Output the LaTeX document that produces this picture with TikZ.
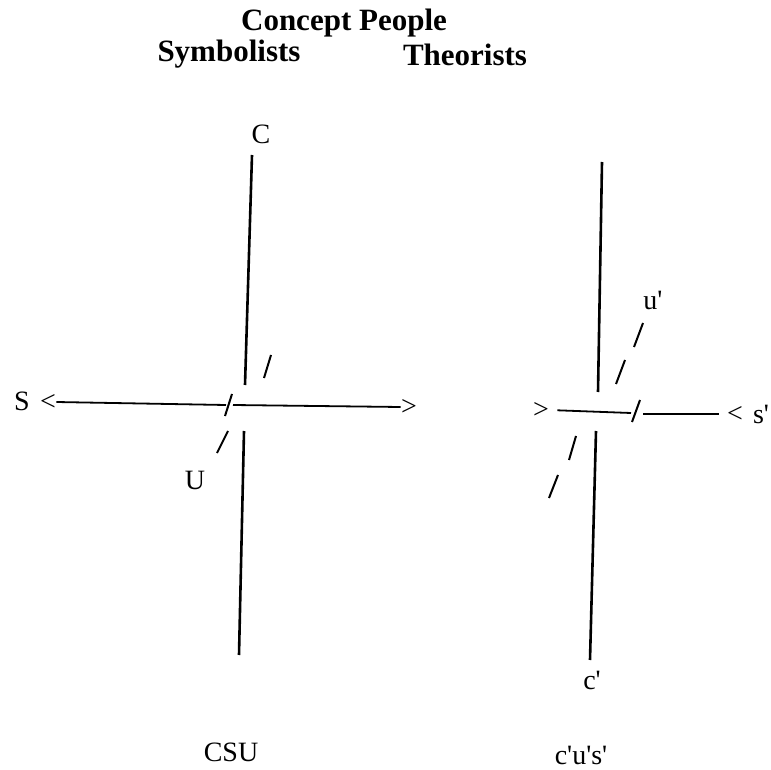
\documentclass[tikz,border=0pt]{standalone}
\usepackage{fontspec}
\setmainfont{Liberation Serif}
\newcommand{\pr}{\textquotesingle}
\begin{document}
\begin{tikzpicture}[
    x=0.5pt, y=-0.5pt,
    every node/.style={inner sep=0pt, font=\fontsize{14}{16}\selectfont},
    head/.style={font=\bfseries\fontsize{15.5}{18}\selectfont, anchor=base},
    axis/.style={line width=1.3pt},
    hline/.style={line width=0.9pt},
    tick/.style={line width=1pt},
    ]
    \useasboundingbox (0,0) rectangle (771,770);

    % Headings
    \node[head] (concept) at (344,31) {Concept People};
    \node[head] (symb) at (229,62) {Symbolists};
    \node[head] (theo) at (465,66) {Theorists};

    % Left: CSU
    \node (C) at (261,134) {C};
    \node (S) at (22,401) {S};
    \node (U) at (195,480) {U};
    \node (ltS) at (48,402) {<};
    \node (gtS) at (409,407) {>};
    \node (CSU) at (231,752) {CSU};
    \coordinate (Ctop) at (252,155);
    \coordinate (Cmid) at (245,385);
    \coordinate (Umid) at (244,431);
    \coordinate (Cbot) at (239,655);
    \coordinate (sgapA) at (226,405);
    \coordinate (sgapB) at (233,405);
    \coordinate (sl1a) at (271,355);
    \coordinate (sl1b) at (264,378);
    \coordinate (sl2a) at (232,394);
    \coordinate (sl2b) at (225,416);
    \coordinate (sl3a) at (228,431);
    \coordinate (sl3b) at (217,453);

    \draw[axis] (Ctop) -- (Cmid);
    \draw[axis] (Umid) -- (Cbot);
    \draw[hline] (ltS.east) -- (sgapA);
    \draw[hline] (sgapB) -- (gtS.west);
    \draw[tick] (sl1a) -- (sl1b);
    \draw[tick] (sl2a) -- (sl2b);
    \draw[tick] (sl3a) -- (sl3b);

    % Right: c'u's'
    \node (u) at (653,300) {u\pr};
    \node (s) at (761,414) {s\pr};
    \node (c) at (592,680) {c\pr};
    \node (gtR) at (541,410) {>};
    \node (ltR) at (735,414) {<};
    \node (cus) at (581,755) {c\pr u\pr s\pr};
    \coordinate (ctop) at (602,162);
    \coordinate (cmid) at (598,392);
    \coordinate (umid) at (596,431);
    \coordinate (cbot) at (590,660);
    \coordinate (rgapA) at (631,413);
    \coordinate (rgapB) at (643,414);
    \coordinate (rl1a) at (643,323);
    \coordinate (rl1b) at (634,347);
    \coordinate (rl2a) at (625,360);
    \coordinate (rl2b) at (616,384);
    \coordinate (rl3a) at (640,400);
    \coordinate (rl3b) at (632,422);
    \coordinate (rl4a) at (576,436);
    \coordinate (rl4b) at (569,460);
    \coordinate (rl5a) at (558,475);
    \coordinate (rl5b) at (549,498);

    \draw[axis] (ctop) -- (cmid);
    \draw[axis] (umid) -- (cbot);
    \draw[hline, shorten <=4pt] (gtR.east) -- (rgapA);
    \draw[hline, shorten >=4pt] (rgapB) -- (ltR.west);
    \draw[tick] (rl1a) -- (rl1b);
    \draw[tick] (rl2a) -- (rl2b);
    \draw[tick] (rl3a) -- (rl3b);
    \draw[tick] (rl4a) -- (rl4b);
    \draw[tick] (rl5a) -- (rl5b);
\end{tikzpicture}
\end{document}
